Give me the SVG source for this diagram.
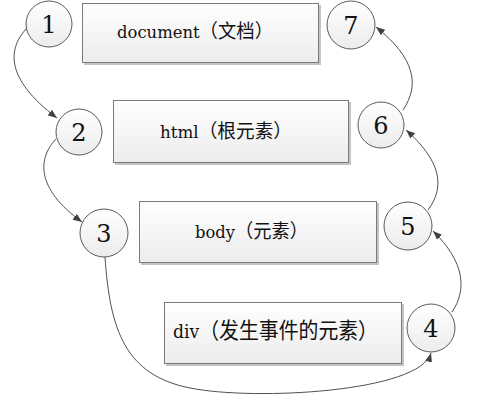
<svg xmlns="http://www.w3.org/2000/svg" width="480" height="404" viewBox="0 0 480 404">
<defs>
<linearGradient id="g" x1="0" y1="0" x2="0" y2="1">
<stop offset="0" stop-color="#ffffff"/>
<stop offset="1" stop-color="#ececec"/>
</linearGradient>
<marker id="a" markerWidth="10" markerHeight="8" refX="9" refY="4" orient="auto" markerUnits="userSpaceOnUse">
<path d="M0,0.5 L9,4 L0,7.5 Z" fill="#404040"/>
</marker>
<style>
.sh{fill:#c4c4c4;}
.box{fill:url(#g);stroke:#7a7a7a;stroke-width:1;}
.cir{fill:url(#g);stroke:#5a5a5a;stroke-width:1;}
.lbl{font-family:"DejaVu Serif","Noto Sans CJK SC",serif;font-size:19px;fill:#111;text-anchor:middle;}
.lat{font-size:17px;}
.num{font-family:"DejaVu Serif",serif;font-size:24px;fill:#111;text-anchor:middle;}
.c{fill:none;stroke:#505050;stroke-width:1;marker-end:url(#a);}
</style>
</defs>
<rect width="480" height="404" fill="#fff"/>
<g id="box-document">
<rect class="sh" x="84" y="5" width="237" height="60"/>
<rect class="box" x="82.5" y="3.5" width="236" height="59"/>
<text class="lbl" x="195" y="38" textLength="156" lengthAdjust="spacingAndGlyphs"><tspan class="lat">document</tspan>（文档）</text>
</g>
<g id="box-html">
<rect class="sh" x="115" y="102" width="236" height="63"/>
<rect class="box" x="113.5" y="100.5" width="235" height="62"/>
<text class="lbl" x="226" y="138" textLength="132" lengthAdjust="spacingAndGlyphs"><tspan class="lat">html</tspan>（根元素）</text>
</g>
<g id="box-body">
<rect class="sh" x="141" y="203" width="238" height="62"/>
<rect class="box" x="139.5" y="201.5" width="237" height="61"/>
<text class="lbl" x="251.5" y="238" textLength="113" lengthAdjust="spacingAndGlyphs"><tspan class="lat">body</tspan>（元素）</text>
</g>
<g id="box-div">
<rect class="sh" x="166" y="304" width="238" height="62"/>
<rect class="box" x="164.5" y="302.5" width="237" height="61"/>
<text class="lbl" x="275.5" y="338" style="font-size:22px" textLength="205" lengthAdjust="spacingAndGlyphs"><tspan style="font-size:19px">div</tspan>（发生事件的元素）</text>
</g>
<g id="n1"><circle class="cir" cx="49" cy="24" r="23"/><text class="num" x="49" y="33">1</text></g>
<g id="n2"><circle class="cir" cx="79" cy="132" r="23"/><text class="num" x="79" y="141">2</text></g>
<g id="n3"><circle class="cir" cx="104" cy="233" r="24"/><text class="num" x="104" y="242">3</text></g>
<g id="n4"><circle class="cir" cx="431" cy="328" r="24"/><text class="num" x="431" y="337">4</text></g>
<g id="n5"><circle class="cir" cx="408" cy="226" r="24"/><text class="num" x="408" y="235">5</text></g>
<g id="n6"><circle class="cir" cx="381" cy="125" r="23"/><text class="num" x="381" y="134">6</text></g>
<g id="n7"><circle class="cir" cx="351" cy="25" r="24"/><text class="num" x="351" y="34">7</text></g>
<g id="connectors">
<path class="c" d="M27,28 C8,48 4,78 57,118"/>
<path class="c" d="M56,139 C38,158 35,188 82,222"/>
<path class="c" d="M105,257 C110,330 125,375 190,388 S420,392 431,353"/>
<path class="c" d="M452,312 C467,290 465,262 433,231"/>
<path class="c" d="M428,210 C446,186 440,160 406,130"/>
<path class="c" d="M403,110 C420,85 415,58 376,27"/>
</g>
</svg>
